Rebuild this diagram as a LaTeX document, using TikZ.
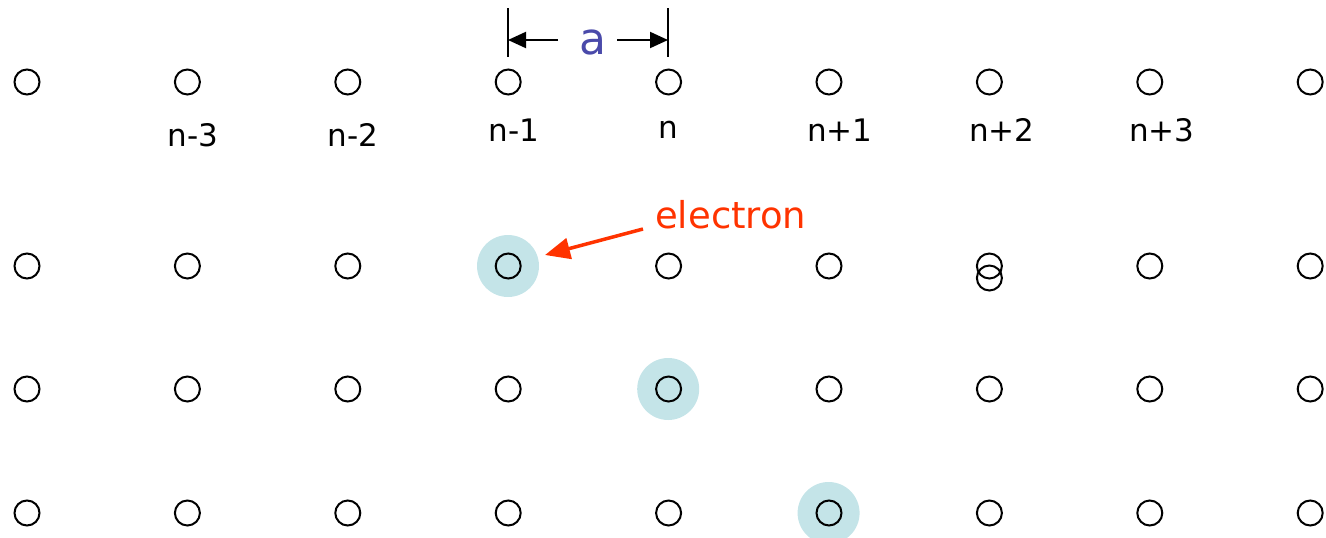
\documentclass[tikz,border=0pt]{standalone}
\usepackage{fontspec}
\setmainfont{DejaVu Sans}
\usetikzlibrary{arrows.meta,positioning,calc}
\definecolor{lblue}{HTML}{C4E4E8}
\definecolor{lred}{HTML}{FF3300}
\definecolor{lpurp}{HTML}{4A4AAA}

\begin{document}
\begin{tikzpicture}[x=1pt,y=-1pt,
  site/.style={circle,draw=black,line width=2pt,minimum size=25pt,inner sep=0pt},
  glow/.style={circle,fill=lblue,minimum size=62pt,inner sep=0pt},
  lbl/.style={font=\fontsize{31}{33}\selectfont,inner sep=0pt},
  dim/.style={-{Triangle[length=18pt,width=16pt]},line width=2pt},
  arr/.style={-{Triangle[length=25pt,width=21pt]},draw=lred,line width=3.5pt}]

  \useasboundingbox (0,0) rectangle (1326,538);

  % highlighted sites
  \node[glow] (g1) at (508,266) {};
  \node[glow] (g2) at (668.2,389) {};
  \node[glow] (g3) at (828.6,513) {};

  % lattice
  \foreach \c in {0,...,8}{
    \foreach \r/\y in {1/82,2/266,3/389,4/513}{
      \node[site] (s-\c-\r) at (27+160.4*\c,\y) {};
    }
  }
  \node[site] (s-6-x) at ($(s-6-2)+(0,12)$) {};

  % site labels
  \node[lbl] (l1) at (193,135) {n-3};
  \node[lbl] (l2) at (353,135) {n-2};
  \node[lbl] (l3) at (514,130) {n-1};
  \node[lbl] (l4) at (668,130) {n};
  \node[lbl] (l5) at (840,130) {n+1};
  \node[lbl] (l6) at (1002,130) {n+2};
  \node[lbl] (l7) at (1162,130) {n+3};

  % lattice constant
  \coordinate (bl) at (508,8);  \coordinate (bl2) at (508,57);
  \coordinate (br) at (668,8);  \coordinate (br2) at (668,57);
  \draw[line width=2pt] (bl)--(bl2); \draw[line width=2pt] (br)--(br2);
  \node[font=\fontsize{44}{46}\selectfont,text=lpurp,inner sep=0pt] (a) at (593,42) {a};
  \coordinate (al) at (508,40); \coordinate (ar) at (668,40);
  \coordinate (al0) at (558,40); \coordinate (ar0) at (617,40);
  \draw[dim] (al0)--(al); \draw[dim] (ar0)--(ar);

  % electron
  \node[font=\fontsize{37}{39}\selectfont,text=lred,anchor=west,inner sep=0pt] (el) at (655,215) {electron};
  \coordinate (e0) at (643,229); \coordinate (et) at (545,255);
  \draw[arr] (e0)--(et);
\end{tikzpicture}
\end{document}
